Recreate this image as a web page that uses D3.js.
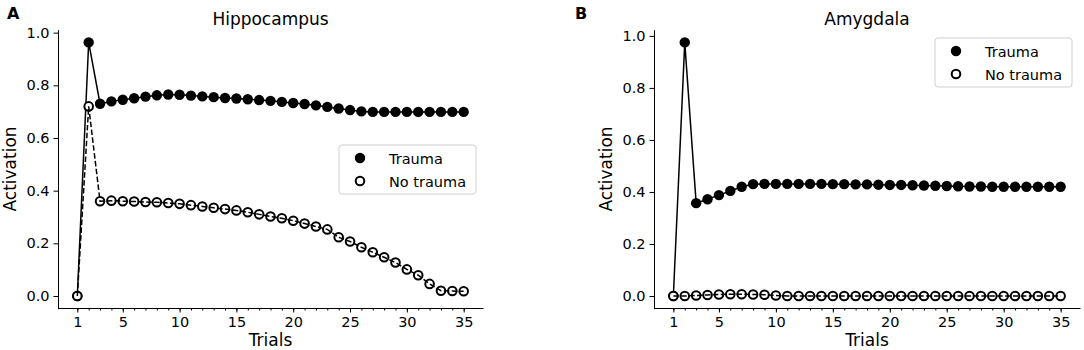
<!DOCTYPE html>
<html lang="en">
<head>
    <meta charset="UTF-8">
    <title>Activation</title>
    <script src="https://d3js.org/d3.v7.min.js"></script>
    <style>
        body { margin: 0; background: #fff; }
        svg text { font-family: "DejaVu Sans", sans-serif; fill: #000; }
        .axis path, .axis line { stroke: #000; }
    </style>
</head>
<body>
    <div class="chart"></div>
    <script>
        // trials 1..35
        const trials = d3.range(1, 36);

        // Hippocampus
        const hippoTrauma = [0, 0.963, 0.730, 0.739, 0.745, 0.751, 0.757, 0.762, 0.765, 0.764,
            0.761, 0.758, 0.755, 0.752, 0.750, 0.747, 0.744, 0.741, 0.737, 0.733,
            0.729, 0.724, 0.718, 0.712, 0.706, 0.701, 0.699, 0.699, 0.699, 0.699,
            0.699, 0.699, 0.699, 0.699, 0.699];
        const hippoNoTrauma = [0, 0.720, 0.360, 0.362, 0.360, 0.359, 0.357, 0.356, 0.353, 0.350,
            0.345, 0.340, 0.335, 0.330, 0.325, 0.318, 0.310, 0.302, 0.295, 0.286,
            0.275, 0.264, 0.253, 0.223, 0.207, 0.185, 0.166, 0.147, 0.127, 0.101,
            0.079, 0.046, 0.020, 0.019, 0.018];

        // Amygdala
        const amygTrauma = [0, 0.975, 0.357, 0.372, 0.388, 0.404, 0.420, 0.430, 0.431, 0.431,
            0.431, 0.431, 0.431, 0.431, 0.430, 0.430, 0.429, 0.429, 0.428, 0.427,
            0.427, 0.426, 0.425, 0.424, 0.423, 0.422, 0.421, 0.421, 0.420, 0.420,
            0.420, 0.420, 0.420, 0.420, 0.420];
        const amygNoTrauma = [0, 0, 0.002, 0.004, 0.006, 0.007, 0.007, 0.006, 0.005, 0.002,
            0, 0, 0, 0, 0, 0, 0, 0, 0, 0,
            0, 0, 0, 0, 0, 0, 0, 0, 0, 0,
            0, 0, 0, 0, 0];

        const xTicks = [1, 5, 10, 15, 20, 25, 30, 35];
        const yTicks = [0, 0.2, 0.4, 0.6, 0.8, 1.0];
        const seriesNames = ["Trauma", "No trauma"];

        const w = 1084, h = 350;
        const svg = d3.select(".chart").append("svg").attr("width", w).attr("height", h);

        function pad(ext) {
            const d = (ext[1] - ext[0]) * 0.05;
            return [ext[0] - d, ext[1] + d];
        }

        function panel(opt) {
            const g = svg.append("g");
            const xScale = d3.scaleLinear().domain(pad(d3.extent(trials))).range([opt.left, opt.right]);
            const yScale = d3.scaleLinear()
                .domain(pad(d3.extent(opt.trauma.concat(opt.noTrauma))))
                .range([308.7, 29.7]);

            // minor ticks on every trial
            g.append("g")
                .attr("class", "axis")
                .attr("transform", `translate(0, 308)`)
                .call(d3.axisBottom(xScale).tickValues(trials).tickSize(2.5).tickFormat(""))
                .call(s => s.select(".domain").remove());

            const xAxis = g.append("g")
                .attr("class", "axis")
                .attr("transform", `translate(0, 308)`)
                .call(d3.axisBottom(xScale).tickValues(xTicks).tickSize(4.5).tickSizeOuter(0).tickPadding(4));
            xAxis.selectAll("text").style("font-size", "14.5px");

            const yAxis = g.append("g")
                .attr("class", "axis")
                .attr("transform", `translate(${opt.left}, 0)`)
                .call(d3.axisLeft(yScale).tickValues(yTicks).tickFormat(d3.format(".1f")).tickSize(4.5).tickSizeOuter(0).tickPadding(4));
            yAxis.selectAll("text").style("font-size", "14.5px");

            const line = d3.line().x((d, i) => xScale(trials[i])).y(d => yScale(d));

            // trauma
            g.append("path").datum(opt.trauma)
                .attr("d", line).attr("fill", "none").attr("stroke", "#000").attr("stroke-width", 1.5);
            g.selectAll(".tr").data(opt.trauma).enter().append("circle")
                .attr("class", "tr")
                .attr("cx", (d, i) => xScale(trials[i]))
                .attr("cy", d => yScale(d))
                .attr("r", 5.2)
                .attr("fill", "#000");

            // no trauma
            g.selectAll(".nt").data(opt.noTrauma).enter().append("circle")
                .attr("class", "nt")
                .attr("cx", (d, i) => xScale(trials[i]))
                .attr("cy", d => yScale(d))
                .attr("r", 4.3)
                .attr("fill", "#fff")
                .attr("stroke", "#000")
                .attr("stroke-width", 2);
            g.append("path").datum(opt.noTrauma)
                .attr("d", line).attr("fill", "none").attr("stroke", "#000")
                .attr("stroke-width", 1.5).attr("stroke-dasharray", "5.5,2.4");

            // titles & labels
            const mid = (opt.left + opt.right) / 2;
            g.append("text").attr("x", mid).attr("y", 25).attr("text-anchor", "middle")
                .style("font-size", "17px").text(opt.title);
            g.append("text").attr("x", opt.letterX).attr("y", 19)
                .style("font-size", "16px").style("font-weight", "bold").text(opt.letter);
            g.append("text").attr("x", mid).attr("y", 346).attr("text-anchor", "middle")
                .style("font-size", "17px").text("Trials");
            g.append("text")
                .attr("transform", `translate(${opt.left - 42}, 169) rotate(-90)`)
                .attr("text-anchor", "middle")
                .style("font-size", "17px").text("Activation");

            // legend
            const lg = g.append("g").attr("transform", `translate(${opt.legX}, ${opt.legY})`);
            lg.append("rect").attr("width", 137).attr("height", 49).attr("rx", 3)
                .attr("fill", "#fff").attr("fill-opacity", 0.8)
                .attr("stroke", "#d0d0d0").attr("stroke-width", 1);
            seriesNames.forEach((name, i) => {
                const cy = 13 + i * 23;
                const c = lg.append("circle").attr("cx", 21).attr("cy", cy);
                if (i === 0) c.attr("r", 5.2).attr("fill", "#000");
                else c.attr("r", 4.3).attr("fill", "#fff").attr("stroke", "#000").attr("stroke-width", 2);
                lg.append("text").attr("x", 50).attr("y", cy + 5.5)
                    .style("font-size", "14.5px").text(name);
            });
        }

        panel({ left: 58, right: 483, trauma: hippoTrauma, noTrauma: hippoNoTrauma,
            title: "Hippocampus", letter: "A", letterX: 7, legX: 339, legY: 145 });
        panel({ left: 654, right: 1080, trauma: amygTrauma, noTrauma: amygNoTrauma,
            title: "Amygdala", letter: "B", letterX: 575, legX: 935, legY: 38 });
    </script>
</body>
</html>
